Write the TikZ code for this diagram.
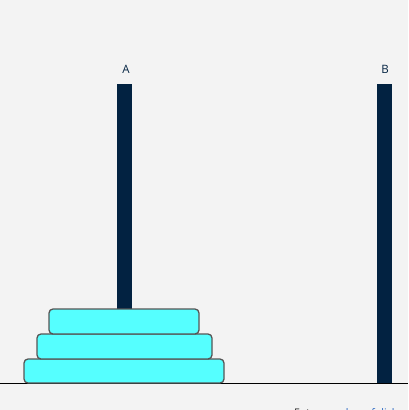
\documentclass[tikz,border=0pt]{standalone}
\usepackage{fontspec}
\setmainfont{Open Sans}
\definecolor{bg}{HTML}{F3F3F3}
\definecolor{pole}{HTML}{022241}
\definecolor{disk}{HTML}{55FFFF}
\definecolor{diskedge}{HTML}{555555}
\definecolor{baseline}{HTML}{9A9A9A}
\definecolor{linkblue}{HTML}{1F5FBF}
\begin{document}
\begin{tikzpicture}[x=1pt,y=-1pt,
  polebar/.style={fill=pole,draw=none},
  diskbox/.style={fill=disk,draw=diskedge,line width=1.3pt,rounded corners=4pt},
  pegname/.style={font=\fontsize{11.5}{13}\selectfont,text=pole,inner sep=0pt}]
\useasboundingbox (0,0) rectangle (408,410);
\clip (0,0) rectangle (408,410);
\fill[bg] (0,0) rectangle (408,410);
% poles
\fill[polebar] (117,84) rectangle (132,309);
\fill[polebar] (377,84) rectangle (392,383);
\node[pegname] (labA) at (126,69.5) {A};
\node[pegname] (labB) at (385,69.5) {B};
% base line
\draw[baseline,line width=1pt] (0,383.5) -- (408,383.5);
% disks
\draw[diskbox] (24,359) rectangle (224,383);
\draw[diskbox] (37,334) rectangle (212,359);
\draw[diskbox] (49,309) rectangle (199,334);
% bottom clipped text
\node[anchor=base west,inner sep=0pt,font=\fontsize{10.5}{12}\selectfont] (prompt) at (294,416.5) {\textcolor{black!85}{Enter }\textcolor{linkblue}{number of disks}};
\end{tikzpicture}
\end{document}
